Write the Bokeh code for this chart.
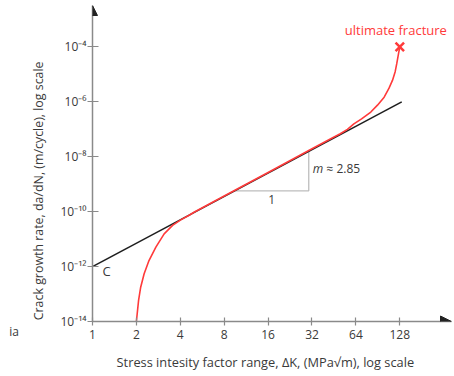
from bokeh.plotting import figure
from bokeh.models import Range1d, FixedTicker, Arrow, NormalHead, Label
from bokeh.core.properties import value
from bokeh.embed import file_html
from bokeh.resources import INLINE

# ---- data ----
x_ticks = [1, 2, 4, 8, 16, 32, 64, 128]
x_tick_labels = ["1", "2", "4", "8", "16", "32", "64", "128"]
y_ticks = [1e-14, 1e-12, 1e-10, 1e-8, 1e-6, 1e-4]
y_tick_labels = ["10⁻¹⁴", "10⁻¹²", "10⁻¹⁰", "10⁻⁸", "10⁻⁶", "10⁻⁴"]

# Paris-law straight line
paris_dK = [1, 132]
paris_rate = [1e-12, 1e-6]

# measured (red) crack-growth curve, log10 of rate
curve_dK = [2.0, 2.07, 2.14, 2.26, 2.44, 2.72, 3.10, 3.54, 4.03, 4.6, 5.0,
            8, 16, 32, 45, 50, 56, 62, 70, 81, 90, 100, 108, 114, 119, 122,
            125.4, 128]
curve_log_rate = [-14.0, -13.23, -12.75, -12.26, -11.78, -11.29, -10.81, -10.50,
                  -10.30, -10.13, -10.01, -9.43, -8.57, -7.71, -7.29, -7.16,
                  -7.00, -6.80, -6.62, -6.37, -6.12, -5.83, -5.50, -5.22, -4.90,
                  -4.61, -4.25, -4.0]
curve_rate = [10 ** v for v in curve_log_rate]

fracture_dK = [128]
fracture_rate = [1e-4]

# slope triangle
tri_dK = [9.3, 30.4, 30.4]
tri_rate = [5.75e-10, 5.75e-10, 1.70e-8]

FONT = "Open Sans"
TXT = "#3a3a3a"
RED = "#ff3a3a"
NB = "\u00a0"

p = figure(width=454, height=376, x_axis_type="log", y_axis_type="log",
           x_range=Range1d(1, 289.6), y_range=Range1d(1e-14, 10 ** -2.49),
           output_backend="svg", toolbar_location=None,
           min_border_left=92, min_border_right=3, min_border_top=5,
           min_border_bottom=55)
p.outline_line_color = None
p.grid.visible = False
p.background_fill_color = "white"

for ax in (p.xaxis[0], p.yaxis[0]):
    ax.axis_line_color = "#8a8a8a"
    ax.axis_line_width = 1.5
    ax.major_tick_line_color = "#8a8a8a"
    ax.major_tick_line_width = 1.2
    ax.minor_tick_line_color = None
    ax.major_label_text_font = FONT
    ax.major_label_text_font_size = "12px"
    ax.major_label_text_color = TXT
    ax.axis_label_text_font = FONT
    ax.axis_label_text_font_style = "normal"
    ax.axis_label_text_color = TXT

p.xaxis.ticker = FixedTicker(ticks=x_ticks)
p.xaxis.major_label_overrides = dict(zip(x_ticks, x_tick_labels))
p.xaxis.major_tick_in = 4
p.xaxis.major_tick_out = 4
p.xaxis.major_label_standoff = 4
p.xaxis.axis_label = "Stress intesity factor range, ΔK, (MPa√m), log scale" + NB * 4
p.xaxis.axis_label_text_font_size = "12.8px"
p.xaxis.axis_label_standoff = 11

p.yaxis.ticker = FixedTicker(ticks=y_ticks)
p.yaxis.major_label_overrides = dict(zip(y_ticks, y_tick_labels))
p.yaxis.major_tick_in = 6
p.yaxis.major_tick_out = 5
p.yaxis.major_label_standoff = 1
p.yaxis.axis_label = "Crack growth rate, da/dN, (m/cycle), log scale" + NB * 17
p.yaxis.axis_label_text_font_size = "12.4px"
p.yaxis.axis_label_standoff = 10

# slope triangle
p.line(tri_dK, tri_rate, line_color="#bdbdbd", line_width=1.3)

# lines
p.line(paris_dK, paris_rate, line_color="#1e1e1e", line_width=1.6)
p.line(curve_dK, curve_rate, line_color=RED, line_width=1.6)
p.scatter(fracture_dK, fracture_rate, marker="x", size=12, line_color=RED, line_width=2.5)

# arrow heads on axes
p.add_layout(Arrow(end=NormalHead(size=10, fill_color="#222222", line_color="#222222"),
                   x_start=1, y_start=10 ** -3.2, x_end=1, y_end=10 ** -2.49,
                   line_color=None))
p.add_layout(Arrow(end=NormalHead(size=11, fill_color="#222222", line_color="#222222"),
                   x_start=200, y_start=1e-14, x_end=289.6, y_end=1e-14,
                   line_color=None))

def txt(x, y, s, color=TXT, size="12px", align="left", style="normal"):
    p.text(x=[x], y=[y], text=[s], text_font=value(FONT), text_font_size=value(size),
           text_color=color, text_align=align, text_baseline="middle",
           text_font_style=style)

txt(120.2, 10 ** -3.40, "ultimate fracture", color=RED, size="13px", align="center")
txt(32.4, 10 ** -8.43, "m", style="italic")
txt(40.2, 10 ** -8.43, "≈ 2.85")
txt(16.96, 10 ** -9.56, "1", align="center")
txt(1.17, 10 ** -12.17, "C", size="13px")

p.add_layout(Label(x=-3.5, y=-10, x_units="screen", y_units="screen", text="ia",
                   text_font=FONT, text_font_size="12px", text_color=TXT,
                   text_align="center", text_baseline="middle"), "left")

open("out.html", "w").write(file_html(p, INLINE))
